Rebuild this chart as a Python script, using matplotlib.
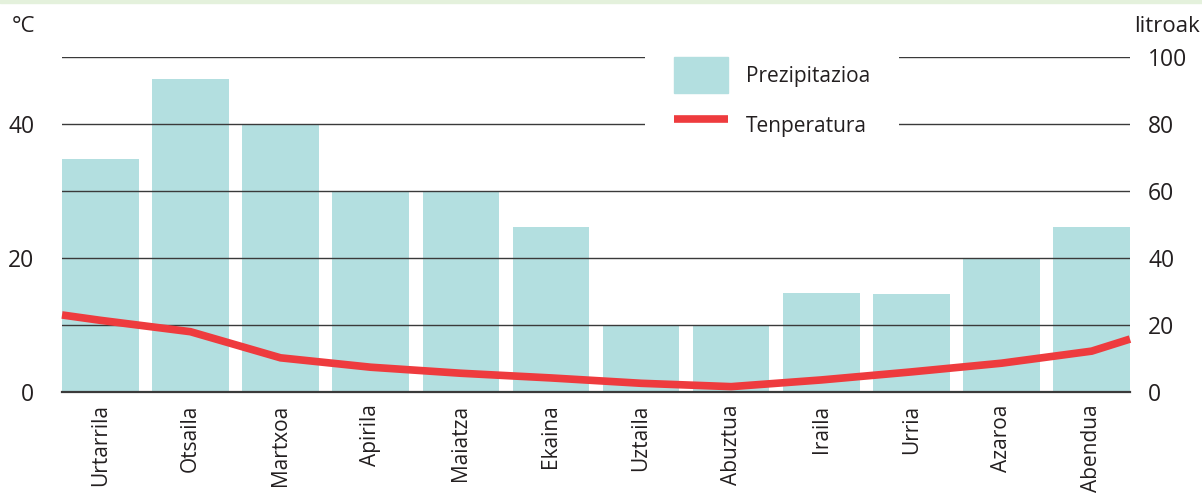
import matplotlib.pyplot as plt
from matplotlib.patches import Rectangle
from matplotlib.lines import Line2D
import numpy as np

plt.rcParams['font.family'] = ['Open Sans', 'DejaVu Sans']

# Data
months = ['Urtarrila', 'Otsaila', 'Martxoa', 'Apirila', 'Maiatza', 'Ekaina',
          'Uztaila', 'Abuztua', 'Iraila', 'Urria', 'Azaroa', 'Abendua']
precip = [69.6, 93.4, 80, 60, 60, 49.3, 20, 20, 29.6, 29.3, 39.7, 49.3]   # litroak
temp = [10.7, 9.0, 5.1, 3.7, 2.8, 2.1, 1.3, 0.8, 1.8, 3.0, 4.3, 6.1]     # °C
temp_start = 11.5   # line value at left edge
temp_end = 7.9      # line value at right edge

bar_color = '#b3dfe0'
line_color = '#ee3b3e'
grid_color = '#3a3a3a'
text_color = '#231f20'

fig = plt.figure(figsize=(12.02, 4.97), dpi=100)
ax = fig.add_axes([62 / 1202, 1 - 392 / 497, (1130 - 62) / 1202, (392 - 57) / 497])
ax2 = ax.twinx()

x = np.arange(len(months))
bw = 0.85
ax2.bar(x, precip, width=bw, color=bar_color, zorder=1)
ax2.set_ylim(0, 100)
ax2.set_yticks(np.arange(0, 101, 20))
ax2.tick_params(axis='y', length=0, pad=13, labelsize=16.5, labelcolor=text_color)

# put temperature axes (grid + line) above the bars
ax.set_zorder(ax2.get_zorder() + 1)
ax.patch.set_visible(False)

xlim = (-bw / 2, len(months) - 1 + bw / 2)
ax.set_xlim(xlim)
ax.set_ylim(0, 50)
ax.set_yticks(np.arange(0, 51, 10))
ax.set_yticklabels(['0', '', '20', '', '40', ''])
ax.tick_params(axis='y', length=0, pad=20, labelsize=16.5, labelcolor=text_color)
ax.grid(axis='y', color=grid_color, linewidth=1.0)
ax.set_axisbelow(False)

tx = np.concatenate([[xlim[0]], x, [xlim[1]]])
ty = [temp_start] + temp + [temp_end]
ax.plot(tx, ty, color=line_color, linewidth=5.5, solid_capstyle='butt',
        solid_joinstyle='miter', zorder=3, clip_on=False)

ax.set_xticks(x)
ax.set_xticklabels(months, rotation=90, va='top', ha='center')
ax.tick_params(axis='x', length=0, pad=9, labelsize=15, labelcolor=text_color)

for a in (ax, ax2):
    for s in a.spines.values():
        s.set_visible(False)
ax.spines['bottom'].set_visible(True)
ax.spines['bottom'].set_color(grid_color)
ax.spines['bottom'].set_linewidth(1.6)

handles = [Rectangle((0, 0), 1, 1, color=bar_color),
           Line2D([0], [0], color=line_color, linewidth=5.5, solid_capstyle='butt')]
leg = ax.legend(handles, ['Prezipitazioa', 'Tenperatura'],
                loc='upper left', bbox_to_anchor=(645 / 1202, 1 - 28 / 497),
                bbox_transform=fig.transFigure, frameon=True, facecolor='white',
                edgecolor='none', framealpha=1, fancybox=False, fontsize=15,
                handlelength=2.6, handleheight=2.3, labelspacing=0.65,
                handletextpad=0.85, borderpad=1.4, borderaxespad=0)
leg.set_zorder(5)
for t in leg.get_texts():
    t.set_color(text_color)

fig.text(12 / 1202, 1 - 27 / 497, '°C', fontsize=16, color=text_color, va='center', ha='left')
fig.text(1200 / 1202, 1 - 27 / 497, 'litroak', fontsize=16, color=text_color, va='center', ha='right')

fig.patches.append(Rectangle((0, 1 - 3 / 497), 1, 3 / 497, transform=fig.transFigure,
                             color='#e4f1dc', zorder=0))

fig.savefig('out.png', dpi=100)
